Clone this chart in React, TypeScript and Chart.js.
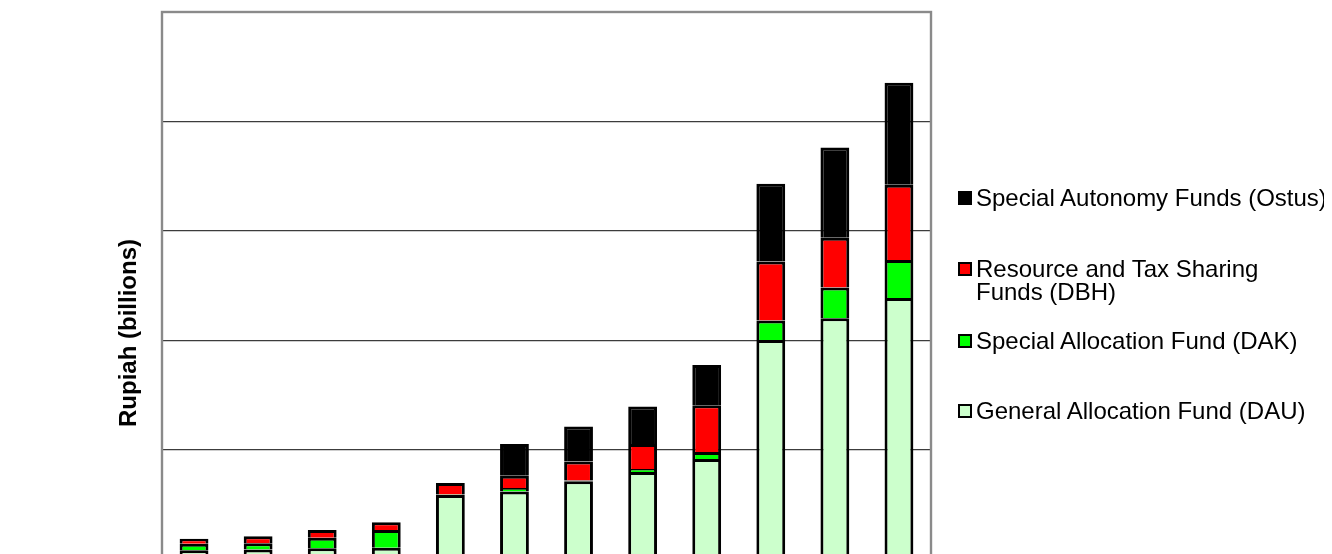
import React, { useEffect, useRef } from "react";
import { Chart, registerables } from "chart.js";

Chart.register(...registerables);

// Categories (years; axis labels fall outside the visible frame)
const years = ["1997", "1998", "1999", "2000", "2001", "2002", "2003", "2004", "2005", "2006", "2007", "2008"];

// Series values, Rupiah (billions)
const dau = [800, 866, 985, 1021, 5853, 6181, 7110, 7949, 9134, 20010, 22015, 23866];
const dak = [586, 574, 948, 1641, 40, 310, 60, 274, 638, 1796, 2799, 3464];
const dbh = [455, 638, 729, 693, 1054, 1121, 1745, 2279, 4285, 5378, 4558, 6873];
const ostus = [0, 0, 0, 0, 0, 2890, 3191, 3427, 3674, 7110, 8232, 9326];

const yMin = 0;
const yMax = 50000;
const yStep = 10000;

const seriesNames = [
  "General Allocation Fund (DAU)",
  "Special Allocation Fund (DAK)",
  "Resource and Tax Sharing Funds (DBH)",
  "Special Autonomy Funds (Ostus)",
];
const seriesColors = ["#CCFFCC", "#00FF00", "#FF0000", "#000000"];

const FONT = '"Liberation Sans", Arial, sans-serif';

const framePlugin = {
  id: "frame",
  afterDatasetsDraw(chart: any) {
    const { ctx, chartArea } = chart;
    const { left, top, right, bottom } = chartArea;
    ctx.save();
    ctx.strokeStyle = "#8a8a8a";
    ctx.lineWidth = 2.4;
    ctx.strokeRect(left, top, right - left, bottom - top);
    ctx.restore();
  },
};

// legend rows (display order top to bottom), positions in px
const legendRows = [
  { idx: 3, lines: ["Special Autonomy Funds (Ostus)"], top: 178 },
  { idx: 2, lines: ["Resource and Tax Sharing", "Funds (DBH)"], top: 249 },
  { idx: 1, lines: ["Special Allocation Fund (DAK)"], top: 321 },
  { idx: 0, lines: ["General Allocation Fund (DAU)"], top: 391 },
];

export default function App() {
  const canvasRef = useRef<HTMLCanvasElement | null>(null);

  useEffect(() => {
    const canvas = canvasRef.current;
    if (!canvas) return;
    const allSeries = [dau, dak, dbh, ostus];
    const chart = new Chart(canvas, {
      type: "bar",
      data: {
        labels: years,
        datasets: allSeries.map((d, i) => ({
          label: seriesNames[i],
          data: d,
          backgroundColor: seriesColors[i],
          borderColor: "#000000",
          borderWidth: 3,
          categoryPercentage: 1,
          barPercentage: 0.45,
        })),
      },
      options: {
        responsive: false,
        animation: false,
        devicePixelRatio: 1,
        layout: { padding: { left: 154, top: 4, right: 393, bottom: 49 } },
        plugins: {
          legend: { display: false },
          tooltip: { enabled: false },
          title: { display: false },
        },
        scales: {
          x: {
            stacked: true,
            display: false,
          },
          y: {
            stacked: true,
            min: yMin,
            max: yMax,
            ticks: { display: false, stepSize: yStep },
            border: { display: false },
            grid: { color: "#3c3c3c", lineWidth: 1.2, drawTicks: false },
          },
        },
      },
      plugins: [framePlugin],
    } as any);
    return () => chart.destroy();
  }, []);

  return (
    <div style={{ position: "relative", width: 1316, height: 546, overflow: "hidden", fontFamily: FONT }}>
      <canvas ref={canvasRef} width={1316} height={600} style={{ width: 1316, height: 600, display: "block" }} />
      <div
        style={{
          position: "absolute",
          left: 120,
          top: 325,
          transform: "translate(-50%, -50%) rotate(-90deg)",
          whiteSpace: "nowrap",
          fontWeight: "bold",
          fontSize: 24,
          color: "#000",
        }}
      >
        Rupiah (billions)
      </div>
      {legendRows.map((r) => (
        <div
          key={r.idx}
          style={{
            position: "absolute",
            left: 950,
            top: r.top,
            fontSize: 24,
            lineHeight: "23px",
            color: "#000",
            whiteSpace: "nowrap",
          }}
        >
          <span
            style={{
              position: "absolute",
              left: 0,
              top: 5,
              width: 14,
              height: 14,
              boxSizing: "border-box",
              border: "2px solid #000",
              background: seriesColors[r.idx],
            }}
          />
          <div style={{ marginLeft: 18 }}>
            {r.lines.map((l, k) => (
              <div key={k}>{l}</div>
            ))}
          </div>
        </div>
      ))}
    </div>
  );
}
